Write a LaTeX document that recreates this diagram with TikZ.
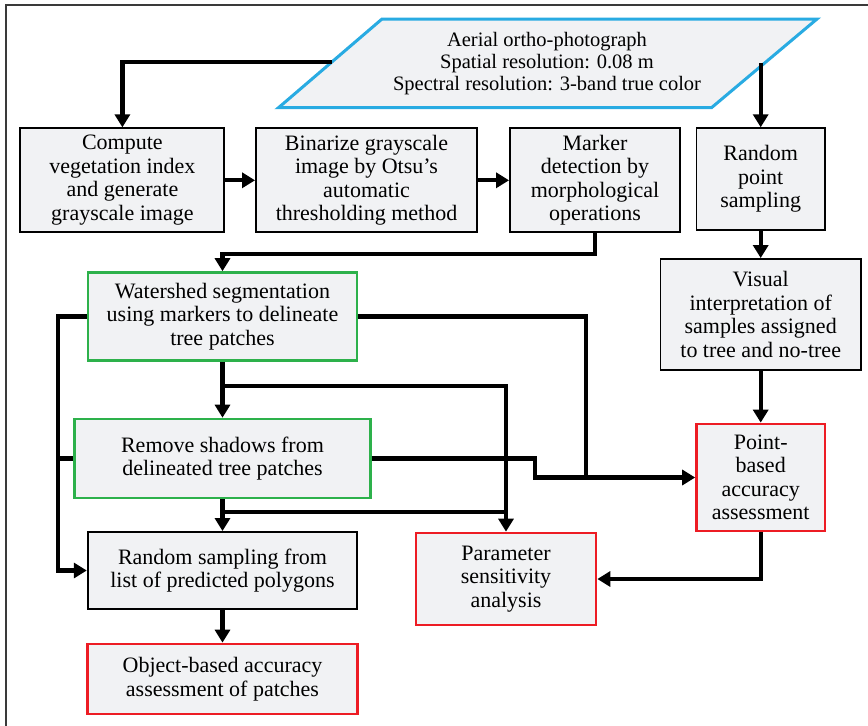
\documentclass[tikz,border=0pt]{standalone}
\usepackage{fontspec}
\setmainfont{Liberation Serif}
\usetikzlibrary{arrows.meta}
\definecolor{boxfill}{HTML}{F1F2F4}
\definecolor{grn}{HTML}{2DB14B}
\definecolor{rd}{HTML}{ED1C24}
\definecolor{blu}{HTML}{29ABE2}
\definecolor{frm}{HTML}{3A3A3A}
\begin{document}
\begin{tikzpicture}[x=1pt,y=-1pt,
  box/.style={draw=black,line width=1.9pt,fill=boxfill,align=center,inner sep=0pt,font=\fontsize{22}{23.5}\selectfont},
  greenbox/.style={box,draw=grn,line width=2.6pt},
  redbox/.style={box,draw=rd,line width=2.7pt},
  conn/.style={line width=4.2pt,draw=black},
  arr/.style={conn,-{Triangle[length=13pt,width=15pt]}}]
\useasboundingbox (0,0) rectangle (868,726);
\draw[frm,line width=1.6pt] (6,726) -- (6,5) -- (868,5);
% input parallelogram
\draw[blu,line width=3pt,fill=boxfill] (382,19) -- (817,19) -- (711.5,107.7) -- (278.5,107.7) -- cycle;
\node[align=center,inner sep=0pt,font=\fontsize{20.5}{22}\selectfont] (aer) at (547,63.3) {Aerial ortho-photograph\\Spatial resolution: 0.08 m\\Spectral resolution: 3-band true color};
\coordinate (aerL) at (331.5,62.3);
\coordinate (aerR) at (760.7,63);
% boxes
\node[box,minimum width=204pt,minimum height=104pt] (comp) at (122.4,180.3) {Compute\\vegetation index\\and generate\\grayscale image};
\node[box,minimum width=221pt,minimum height=104pt] (bin) at (366.5,180.3) {Binarize grayscale\\image by Otsu’s\\automatic\\thresholding method};
\node[box,minimum width=170pt,minimum height=104pt] (mark) at (595,180.3) {Marker\\detection by\\morphological\\operations};
\node[box,minimum width=128.5pt,minimum height=101.7pt] (rps) at (760.7,179.1) {Random\\point\\sampling};
\node[greenbox,minimum width=269pt,minimum height=88pt] (ws) at (222.5,316.5) {Watershed segmentation\\using markers to delineate\\tree patches};
\node[box,minimum width=200.5pt,minimum height=111pt] (vis) at (760.7,314.5) {Visual\\interpretation of\\samples assigned\\to tree and no-tree};
\node[greenbox,minimum width=295.5pt,minimum height=79pt] (rs) at (222.5,458.5) {Remove shadows from\\delineated tree patches};
\node[redbox,minimum width=128.3pt,minimum height=107pt] (pba) at (760.7,477.5) {Point-\\based\\accuracy\\assessment};
\node[box,minimum width=269.5pt,minimum height=77pt] (rsp) at (222.5,570.5) {Random sampling from\\list of predicted polygons};
\node[redbox,minimum width=180pt,minimum height=92pt] (par) at (506,579) {Parameter\\sensitivity\\analysis};
\node[redbox,minimum width=269.5pt,minimum height=70pt] (obj) at (222.5,679) {Object-based accuracy\\assessment of patches};
% connectors
\coordinate (bus) at (58,0);
\coordinate (b1) at (222.5,386);
\coordinate (b2) at (222.5,512);
\coordinate (j1) at (586,477.5);
\draw[arr] (aerL) -| (comp.north);
\draw[arr] (aerR) -- (rps.north);
\draw[arr] (comp.east) -- (bin.west);
\draw[arr] (bin.east) -- (mark.west);
\draw[arr] (mark.south) -- ++(0,20.4) -| (ws.north);
\draw[arr] (rps.south) -- (vis.north);
\draw[arr] (vis.south) -- (pba.north);
\draw[arr] (ws.south) -- (rs.north);
\draw[arr] (rs.south) -- (rsp.north);
\draw[arr] (rsp.south) -- (obj.north);
\draw[arr] (b1) -| (par.north);
\draw[conn] (b2) -- (b2 -| par.north);
\draw[conn] (ws.east) -| (j1);
\draw[arr] (rs.east) -- ++(163.75,0) |- (pba.west);
\draw[arr] (ws.west) -- (ws.west -| bus) |- (rsp.west);
\draw[conn] (rs.west) -- (rs.west -| bus);
\draw[arr] (pba.south) |- (par.east);
\end{tikzpicture}
\end{document}
